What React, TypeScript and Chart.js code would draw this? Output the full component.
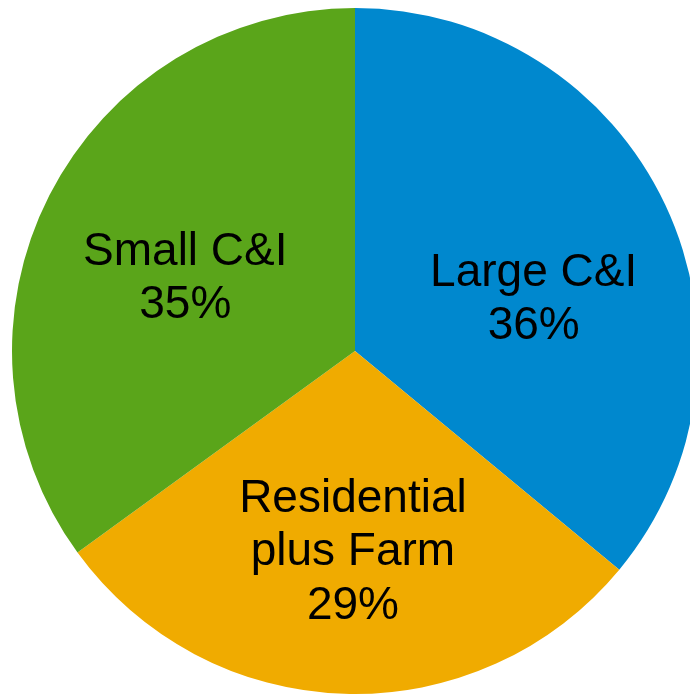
import React, { useEffect, useRef } from "react";
import { Chart, registerables } from "chart.js";

Chart.register(...registerables);

const categories = ["Large C&I", "Residential plus Farm", "Small C&I"];
const labelLines = [["Large C&I"], ["Residential", "plus Farm"], ["Small C&I"]];
const shares = [36, 29, 35];
const sliceColors = ["#0088CE", "#F0AB00", "#5AA51A"];

// label placement (fraction of radius, angular shift in degrees) per slice
const labelRadiusFrac = [0.545, 0.577, 0.542];
const labelAngleShift = [8.1, -1.2, -2.9];

const labelPlugin = {
  id: "sliceLabels",
  afterDatasetsDraw(chart: any) {
    const ctx = chart.ctx;
    const meta = chart.getDatasetMeta(0);
    ctx.save();
    ctx.font = "46px 'Liberation Sans', Arial, sans-serif";
    ctx.fillStyle = "#000000";
    ctx.textAlign = "center";
    ctx.textBaseline = "alphabetic";
    const lineH = 53.5;
    const cap = 33;
    meta.data.forEach((el: any, i: number) => {
      const p = el.getProps(["x", "y", "startAngle", "endAngle", "outerRadius"], true);
      const mid = (p.startAngle + p.endAngle) / 2 + (labelAngleShift[i] * Math.PI) / 180;
      const r = p.outerRadius * labelRadiusFrac[i];
      const cx = p.x + Math.cos(mid) * r;
      const cy = p.y + Math.sin(mid) * r;
      const lines = [...labelLines[i], `${shares[i]}%`];
      const total = (lines.length - 1) * lineH;
      lines.forEach((t, k) => {
        const baseline = cy - total / 2 + k * lineH + cap / 2;
        ctx.fillText(t, cx, baseline);
      });
    });
    ctx.restore();
  },
};

export default function App() {
  const ref = useRef<HTMLCanvasElement | null>(null);
  useEffect(() => {
    if (!ref.current) return;
    const chart = new Chart(ref.current, {
      type: "pie",
      data: {
        labels: categories,
        datasets: [
          {
            data: shares,
            backgroundColor: sliceColors,
            borderColor: "#FFFFFF",
            borderWidth: 0,
          },
        ],
      },
      options: {
        responsive: false,
        maintainAspectRatio: false,
        animation: false,
        layout: { padding: { left: 12, right: 12, top: 8, bottom: 8 } },
        plugins: {
          legend: { display: false },
          tooltip: { enabled: false },
        },
      },
      plugins: [labelPlugin],
    });
    return () => chart.destroy();
  }, []);
  return (
    <div
      style={{
        position: "fixed",
        left: 0,
        top: 0,
        width: 690,
        height: 694,
        overflow: "hidden",
        background: "#FFFFFF",
      }}
    >
      <canvas
        ref={ref}
        width={710}
        height={702}
        style={{ position: "absolute", left: 0, top: 0, width: 710, height: 702 }}
      />
    </div>
  );
}
